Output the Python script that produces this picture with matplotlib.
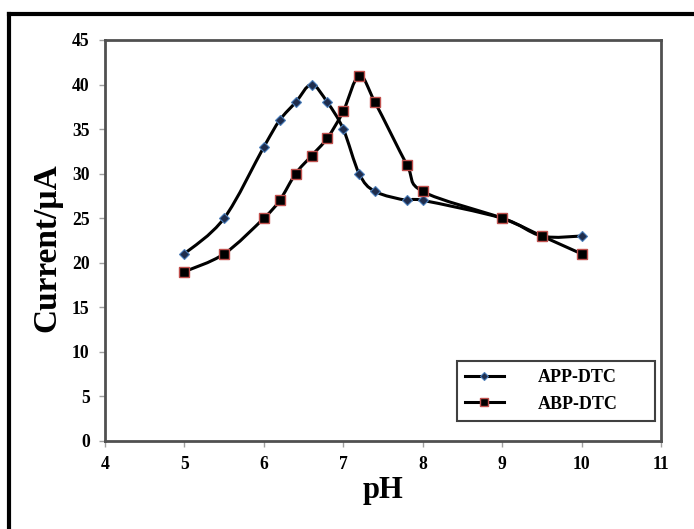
import numpy as np
import matplotlib
matplotlib.use("Agg")
import matplotlib.pyplot as plt
from matplotlib.path import Path
from matplotlib.patches import PathPatch
from matplotlib.lines import Line2D

# data
ph_app = [5.0, 5.5, 6.0, 6.2, 6.4, 6.6, 6.8, 7.0, 7.2, 7.4, 7.8, 8.0, 9.0, 9.5, 10.0]
cur_app = [21, 25, 33, 36, 38, 40, 38, 35, 30, 28, 27, 27, 25, 23, 23]
ph_abp = [5.0, 5.5, 6.0, 6.2, 6.4, 6.6, 6.8, 7.0, 7.2, 7.4, 7.8, 8.0, 9.0, 9.5, 10.0]
cur_abp = [19, 21, 25, 27, 30, 32, 34, 37, 41, 38, 31, 28, 25, 23, 21]
labels = ["APP-DTC", "ABP-DTC"]

plt.rcParams['font.family'] = ['Liberation Serif', 'DejaVu Serif']
plt.rcParams['font.weight'] = 'bold'


def smooth_path(x, y):
    # excel-style smoothed line: cubic bezier through every point
    p = np.column_stack([x, y]).astype(float)
    n = len(p)
    verts = [p[0]]
    codes = [Path.MOVETO]
    for i in range(n - 1):
        p0 = p[i - 1] if i > 0 else p[i]
        p3 = p[i + 2] if i + 2 < n else p[i + 1]
        c1 = p[i] + (p[i + 1] - p0) / 6.0
        c2 = p[i + 1] - (p3 - p[i]) / 6.0
        verts += [c1, c2, p[i + 1]]
        codes += [Path.CURVE4] * 3
    return Path(verts, codes)


fig = plt.figure(figsize=(6.94, 5.29), dpi=100)
ax = fig.add_axes([0.1513, 0.1664, 0.8011, 0.758])

for xs, ys in [(ph_app, cur_app), (ph_abp, cur_abp)]:
    ax.add_patch(PathPatch(smooth_path(xs, ys), facecolor='none',
                           edgecolor='black', lw=2.2, zorder=2))

ax.plot(ph_app, cur_app, ls='none', marker='D', ms=4.8, mfc='#1f2d4d',
        mec='#4a7ebb', mew=0.8, zorder=3)
ax.plot(ph_abp, cur_abp, ls='none', marker='s', ms=6.5, mfc='black',
        mec='#c0504d', mew=1.0, zorder=3)

ax.set_xlim(4, 11)
ax.set_ylim(0, 45)
ax.set_xticks(range(4, 12))
ax.set_yticks(range(0, 46, 5))
ax.tick_params(direction='out', length=4, width=1, color='#a0a0a0',
               labelsize=12.7, pad=7)
for s in ax.spines.values():
    s.set_color('#505050')
    s.set_linewidth(2)

ax.set_xlabel('pH', fontsize=22, fontweight='bold', labelpad=2)
ax.set_ylabel('Current/µA', fontsize=24, fontweight='bold')
ax.yaxis.set_label_coords(-0.0773, 0.481)

handles = [
    Line2D([], [], color='black', lw=2.2, marker='D', ms=4, mfc='#1f2d4d',
           mec='#4a7ebb', mew=0.8),
    Line2D([], [], color='black', lw=2.2, marker='s', ms=5.5, mfc='black',
           mec='#c0504d', mew=1.0),
]
leg = ax.legend(handles, labels, loc='lower left',
                bbox_to_anchor=(0.633, 0.05, 0.356, 0.15), mode='expand',
                borderaxespad=0, fontsize=13, handlelength=2.15,
                handletextpad=1.9, labelspacing=0.55, borderpad=0.45,
                fancybox=False, edgecolor='#404040', framealpha=1)
leg.get_frame().set_linewidth(1.5)

# outer frame (left and top only, as in the reference)
fy = 1 - 14 / 529
fx = 9 / 694
fig.add_artist(Line2D([fx, fx], [0, fy], color='black', lw=3))
fig.add_artist(Line2D([fx, 1], [fy, fy], color='black', lw=3))

fig.savefig('out.png', dpi=100)
